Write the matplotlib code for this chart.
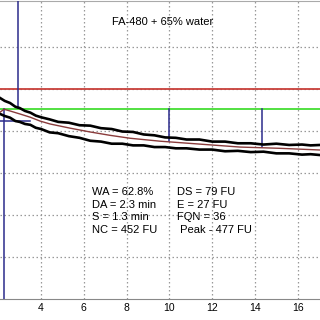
import matplotlib
matplotlib.use("Agg")
import matplotlib.pyplot as plt

plt.rcParams["font.family"] = ["Liberation Sans", "DejaVu Sans"]

# Farinograph trace, FA-480 + 65% water (time in min, consistency in FU)
band_time = [2.08, 2.3, 2.55, 2.8, 3.0, 3.25, 3.5, 3.75, 4.0, 4.4, 4.8, 5.3,
             5.8, 6.3, 6.8, 7.3, 7.8, 8.3, 8.8, 9.3, 9.8, 10.3, 10.8, 11.4,
             12.0, 12.6, 13.2, 13.8, 14.4, 15.0, 15.6, 16.2, 16.6, 17.04]
upper_fu = [479, 472, 467, 458, 455, 448, 444, 437, 433, 428, 422, 420,
            414, 413, 407, 405, 399, 398, 392, 390, 385, 384, 380, 380,
            375, 375, 371, 371, 368, 370, 367, 368, 366, 367]
lower_fu = [441, 436, 432, 424, 422, 417, 415, 408, 405, 397, 395, 388,
            384, 377, 375, 370, 370, 366, 366, 362, 362, 359, 359, 356,
            356, 352, 353, 350, 351, 347, 347, 344, 345, 343]
mid_time = [2.08, 2.27, 2.55, 3.0, 3.5, 3.95, 4.42, 5.36, 6.29, 7.22, 8.16,
            9.56, 11.43, 13.3, 15.17, 17.04]
mid_fu = [445, 452, 448, 441, 433, 424, 417, 407, 398, 390, 383, 376, 369,
          362, 359, 355]

line_500 = 500
nc_line = 452
peak_x, peak_y = 2.27, 452
dev_x = 2.93
stab_x = [10.0, 14.33]
stab_bottom = [376, 361]
arrival_y = 424
arrival_x_end = 3.48

left_lines = ["WA = 62.8%", "DA = 2.3 min", "S = 1.3 min", "NC = 452 FU"]
right_lines = ["DS = 79 FU", "E = 27 FU", "FQN = 36", " Peak - 477 FU"]
x_ticks = [4, 6, 8, 10, 12, 14, 16]
y_grid = [100, 200, 300, 400, 500, 600]

fig = plt.figure(figsize=(3.2, 3.2), dpi=100)
ax = fig.add_axes([0, 21 / 320, 1, 298 / 320])
ax.set_xlim(2.08, 17.04)
ax.set_ylim(0, 710)

for x in x_ticks:
    ax.axvline(x, color="#999999", lw=0.9, ls=(0, (1.2, 2)), zorder=1)
for y in y_grid:
    ax.axhline(y, color="#999999", lw=0.9, ls=(0, (1.2, 2)), zorder=1)

navy = "#2b2b8c"
ax.axhline(line_500, color="#c8403a", lw=1.3, zorder=2)
ax.axhline(nc_line, color="#44dd33", lw=1.3, zorder=2)
ax.plot([dev_x, dev_x], [710, 454], color=navy, lw=1.1, zorder=3)
ax.plot([peak_x, peak_x], [peak_y, 0], color=navy, lw=1.1, zorder=3)
ax.plot([2.08, arrival_x_end], [arrival_y, arrival_y], color=navy, lw=1.1, zorder=3)
for x, yb in zip(stab_x, stab_bottom):
    ax.plot([x, x], [nc_line, yb], color=navy, lw=1.1, zorder=3)

ax.plot(band_time, upper_fu, color="black", lw=1.9, zorder=4)
ax.plot(band_time, lower_fu, color="black", lw=1.9, zorder=4)
ax.plot(mid_time, mid_fu, color="#8a3c3c", lw=1.0, zorder=5)

ax.set_xticks(x_ticks)
ax.set_xticklabels([str(t) for t in x_ticks], fontsize=7.5)
ax.set_yticks([])
ax.tick_params(axis="x", length=0, pad=3)
for side in ["left", "right"]:
    ax.spines[side].set_visible(False)
ax.spines["bottom"].set_color("#888888")
ax.spines["top"].set_color("#aaaaaa")

fig.text(0.35, 1 - 22 / 320, "FA-480 + 65% water", fontsize=8, va="center")
for i, (a, b) in enumerate(zip(left_lines, right_lines)):
    yy = 1 - (192 + i * 12.7) / 320
    fig.text(92 / 320, yy, a, fontsize=8, va="center")
    fig.text(177 / 320, yy, b, fontsize=8, va="center")

fig.savefig("out.png", dpi=100)
